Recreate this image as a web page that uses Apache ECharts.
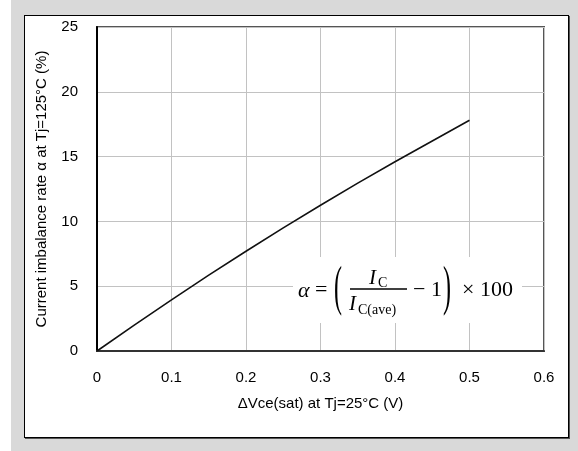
<!DOCTYPE html>
<html>
<head>
<meta charset="utf-8">
<script src="https://cdn.jsdelivr.net/npm/echarts@6/dist/echarts.min.js"></script>
<style>
  html, body { margin: 0; padding: 0; background: #ffffff; }
  #frame { position: absolute; left: 11px; top: 0; width: 567px; height: 451px; background: #d9d9d9; }
  #panel { position: absolute; left: 24px; top: 15px; width: 543px; height: 421px; background: #ffffff;
           border: 1.5px solid #000; box-shadow: 1px 1px 0 #555; }
  #chart { position: absolute; left: 0; top: 0; width: 578px; height: 451px; }
</style>
</head>
<body>
<div id="frame"></div>
<div id="panel"></div>
<div id="chart"></div>
<script>
// ΔVce(sat) at Tj=25°C (V)
const deltaVce = [0, 0.05, 0.1, 0.15, 0.2, 0.25, 0.3, 0.35, 0.4, 0.45, 0.5];
// Current imbalance rate α at Tj=125°C (%)
const imbalanceRate = [0, 2.0, 3.95, 5.85, 7.7, 9.5, 11.25, 12.95, 14.6, 16.2, 17.8];

const xTicks = [0, 0.1, 0.2, 0.3, 0.4, 0.5, 0.6];
const yTicks = [0, 5, 10, 15, 20, 25];

const sans = 'Liberation Sans, Arial, sans-serif';
const serif = 'Liberation Serif, DejaVu Serif, serif';

const chart = echarts.init(document.getElementById('chart'), null, { renderer: 'canvas' });

// Formula annotation: α = ( I_C / I_C(ave) − 1 ) × 100, on a white patch over the grid
function txt(x, y, text, font, extra) {
  return Object.assign({
    type: 'text', x: x, y: y, z: 10,
    style: { text: text, font: font, fill: '#000', verticalAlign: 'middle' }
  }, extra || {});
}
const formula = [
  { type: 'rect', z: 9, shape: { x: 293, y: 257, width: 229, height: 66 }, style: { fill: '#fff' }, silent: true },
  txt(298, 291, 'α', 'italic 22px ' + serif),
  txt(315, 290, '=', '22px ' + serif),
  txt(334, 290, '(', '24px ' + serif, { scaleX: 1, scaleY: 2.3 }),
  txt(369, 278, 'I', 'italic 21px ' + serif),
  txt(378, 283, 'C', '14px ' + serif),
  { type: 'line', z: 10, shape: { x1: 350, y1: 289, x2: 407, y2: 289 }, style: { stroke: '#000', lineWidth: 1.3 } },
  txt(349, 304, 'I', 'italic 21px ' + serif),
  txt(358, 310, 'C(ave)', '14px ' + serif),
  txt(413, 290, '− 1', '22px ' + serif),
  txt(443, 290, ')', '24px ' + serif, { scaleX: 1, scaleY: 2.3 }),
  txt(462, 290, '× 100', '22px ' + serif)
];

const option = {
  animation: false,
  backgroundColor: 'transparent',
  grid: {
    left: 97, right: 34, top: 27, bottom: 100,
    show: true, borderColor: '#555', borderWidth: 2, backgroundColor: 'transparent'
  },
  xAxis: {
    type: 'value',
    min: xTicks[0], max: xTicks[xTicks.length - 1], interval: 0.1,
    name: 'ΔVce(sat) at Tj=25°C (V)',
    nameLocation: 'middle', nameGap: 45,
    nameTextStyle: { fontFamily: sans, fontSize: 15, color: '#000' },
    axisLine: { show: true, onZero: false, lineStyle: { color: '#333', width: 2 } },
    axisTick: { show: false },
    axisLabel: {
      margin: 19, fontFamily: sans, fontSize: 15, color: '#000',
      formatter: v => (xTicks.some(t => Math.abs(t - v) < 1e-9) ? String(+v.toFixed(1)) : '')
    },
    splitLine: { show: true, lineStyle: { color: '#c2c2c2', width: 1 } }
  },
  yAxis: {
    type: 'value',
    min: yTicks[0], max: yTicks[yTicks.length - 1], interval: 5,
    name: 'Current imbalance rate α at Tj=125°C (%)',
    nameLocation: 'middle', nameGap: 48,
    nameTextStyle: { fontFamily: sans, fontSize: 15, color: '#000' },
    axisLine: { show: true, onZero: false, lineStyle: { color: '#000', width: 2 } },
    axisTick: { show: false },
    axisLabel: { margin: 19, fontFamily: sans, fontSize: 15, color: '#000' },
    splitLine: { show: true, lineStyle: { color: '#c2c2c2', width: 1 } }
  },
  series: [{
    type: 'line',
    data: deltaVce.map((x, i) => [x, imbalanceRate[i]]),
    showSymbol: false,
    smooth: false,
    lineStyle: { color: '#111', width: 1.6 },
    z: 3
  }],
  graphic: formula
};

chart.setOption(option);
</script>
</body>
</html>
